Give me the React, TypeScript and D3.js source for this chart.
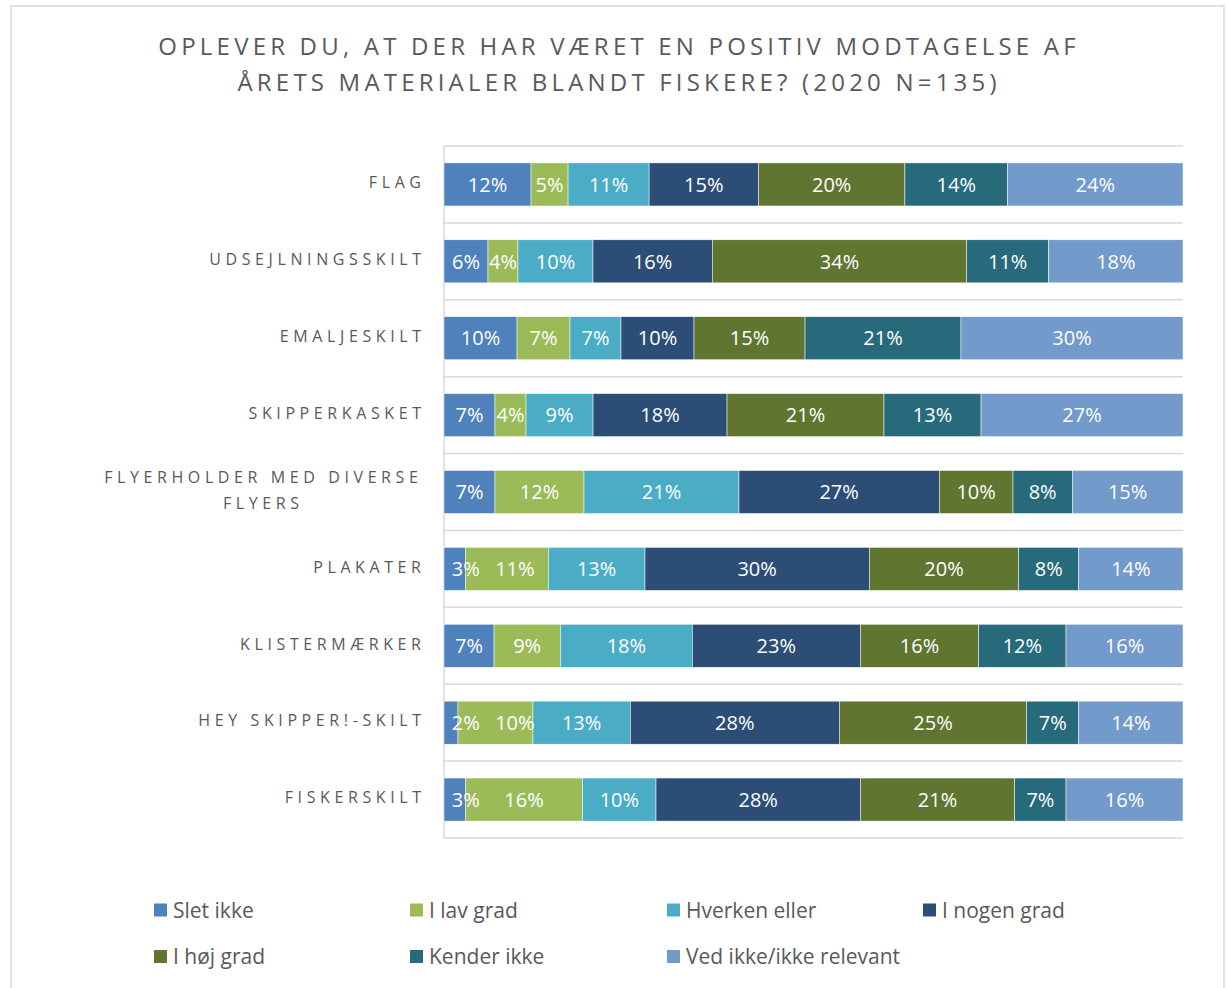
import React from "react";
import * as d3 from "d3";

const categories = [
  "FLAG",
  "UDSEJLNINGSSKILT",
  "EMALJESKILT",
  "SKIPPERKASKET",
  "FLYERHOLDER MED DIVERSE|FLYERS",
  "PLAKATER",
  "KLISTERMÆRKER",
  "HEY SKIPPER!-SKILT",
  "FISKERSKILT",
];

const seriesNames = [
  "Slet ikke",
  "I lav grad",
  "Hverken eller",
  "I nogen grad",
  "I høj grad",
  "Kender ikke",
  "Ved ikke/ikke relevant",
];

const sletIkke = [11.77, 5.95, 9.88, 6.9, 6.9, 2.88, 6.77, 1.89, 2.88];
const iLavGrad = [5.01, 4.06, 7.17, 4.2, 12.04, 11.23, 8.97, 10.15, 15.89];
const hverkenEller = [10.96, 10.15, 6.9, 9.07, 20.97, 13.09, 17.86, 13.17, 9.92];
const iNogenGrad = [14.79, 16.14, 9.88, 18.13, 27.1, 30.35, 22.73, 28.28, 27.65];
const iHoejGrad = [19.81, 34.42, 15.02, 21.24, 9.97, 20.22, 16.02, 25.36, 20.89];
const kenderIkke = [13.88, 11.1, 21.1, 13.13, 8.02, 8.12, 11.81, 7.04, 6.94];
const vedIkke = [23.73, 18.17, 30.04, 27.33, 14.98, 14.11, 15.83, 14.11, 15.83];

const seriesValues = [sletIkke, iLavGrad, hverkenEller, iNogenGrad, iHoejGrad, kenderIkke, vedIkke];

const colors = ["#4F81BD", "#9BBB59", "#4BACC6", "#2C4D75", "#5F7530", "#276A7C", "#729ACA"];

const titleLines = [
  "OPLEVER DU, AT DER HAR VÆRET EN POSITIV MODTAGELSE AF",
  "ÅRETS MATERIALER BLANDT FISKERE? (2020 N=135)",
];

const W = 1227;
const H = 988;
const FONT = "'Open Sans', 'Noto Sans', sans-serif";
const TEXT = "#595959";
const GRID = "#D9D9D9";

export default function App() {
  const rows = categories.map((c, i) => {
    const r: any = { cat: c };
    seriesNames.forEach((s, j) => (r[s] = seriesValues[j][i]));
    return r;
  });
  const stack = d3.stack<any>().keys(seriesNames).offset(d3.stackOffsetExpand);
  const stacked = stack(rows);

  const x = d3.scaleLinear().domain([0, 1]).range([444, 1183]);
  const y = d3
    .scaleBand<string>()
    .domain(categories)
    .range([146, 838])
    .paddingInner(0.44)
    .paddingOuter(0.22);
  const step = y.step();
  const gridYs = d3.range(categories.length + 1).map((i) => 146 + i * step);

  const catLS = 4.6;
  const titleLS = 4.2;
  const legendCols = [154, 410, 667, 923];
  const legendRows = [910, 956.5];
  const labelFont = 20;

  // compute label positions per row, nudging labels that do not fit
  const labels: { key: string; x: number; y: number; text: string }[] = [];
  categories.forEach((cat, i) => {
    let prevRight = -Infinity;
    let prevOverflow = false;
    stacked.forEach((s, j) => {
      const d = s[i];
      const x0 = x(d[0]);
      const x1 = x(d[1]);
      const text = `${Math.round(seriesValues[j][i])}%`;
      const w = labelFont * (0.572 * (text.length - 1) + 0.8);
      let cx = (x0 + x1) / 2;
      cx = Math.max(cx, x.range()[0] + 8 + w / 2);
      cx = Math.max(cx, prevRight + (prevOverflow ? 16 : 6) + w / 2);
      cx = Math.min(cx, x.range()[1] - 8 - w / 2);
      prevRight = cx + w / 2;
      prevOverflow = w > x1 - x0 - 2;
      labels.push({ key: `${j}-${i}`, x: cx, y: y(cat)! + y.bandwidth() / 2, text });
    });
  });

  return (
    <svg
      width={W}
      height={H}
      style={{ position: "absolute", left: 0, top: 0, background: "#fff" }}
      fontFamily={FONT}
    >
      <rect x={11} y={6} width={1213} height={H} fill="#fff" stroke={GRID} strokeWidth={1.5} />
      {titleLines.map((t, i) => (
        <text
          key={i}
          x={617 + titleLS / 2}
          y={55 + i * 36}
          textAnchor="middle"
          fontSize={24}
          letterSpacing={titleLS}
          fill={TEXT}
        >
          {t}
        </text>
      ))}
      {gridYs.map((gy, i) => (
        <line key={i} x1={444} x2={1183} y1={gy} y2={gy} stroke={GRID} strokeWidth={1.5} />
      ))}
      <line x1={444} x2={444} y1={146} y2={838} stroke={GRID} strokeWidth={1.5} />
      {stacked.map((s, j) =>
        s.map((d, i) => {
          const x0 = x(d[0]);
          const x1 = x(d[1]);
          return (
            <rect
              key={`r-${j}-${i}`}
              x={x0}
              y={y(categories[i])!}
              width={x1 - x0}
              height={y.bandwidth()}
              fill={colors[j]}
              stroke="#fff"
              strokeWidth={0.5}
            />
          );
        })
      )}
      {labels.map((l) => (
        <text
          key={`t-${l.key}`}
          x={l.x}
          y={l.y}
          dy="0.36em"
          textAnchor="middle"
          fontSize={labelFont}
          fill="#fff"
        >
          {l.text}
        </text>
      ))}
      {categories.map((c) => {
        const lines = c.split("|");
        const cy = y(c)! + y.bandwidth() / 2;
        if (lines.length === 1) {
          return (
            <text
              key={c}
              x={421 + catLS}
              y={cy - 2}
              dy="0.36em"
              textAnchor="end"
              fontSize={16}
              letterSpacing={catLS}
              fill={TEXT}
            >
              {c}
            </text>
          );
        }
        return (
          <g key={c}>
            {lines.map((l, k) => (
              <text
                key={k}
                x={261 + catLS / 2}
                y={cy - 15 + k * 26}
                dy="0.36em"
                textAnchor="middle"
                fontSize={16}
                letterSpacing={catLS}
                fill={TEXT}
              >
                {l}
              </text>
            ))}
          </g>
        );
      })}
      {seriesNames.map((s, j) => {
        const col = j % 4;
        const row = Math.floor(j / 4);
        const lx = legendCols[col];
        const ly = legendRows[row];
        return (
          <g key={s}>
            <rect x={lx} y={ly - 6.5} width={13} height={13} fill={colors[j]} />
            <text x={lx + 19} y={ly} dy="0.36em" fontSize={21} fill={TEXT}>
              {s}
            </text>
          </g>
        );
      })}
    </svg>
  );
}
